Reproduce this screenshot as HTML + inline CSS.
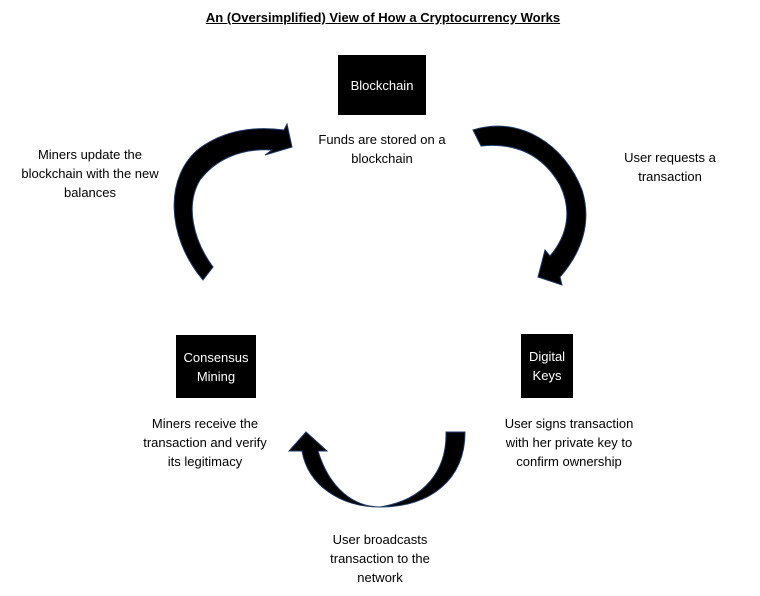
<!DOCTYPE html>
<html><head><style>
body{margin:0;width:760px;height:596px;background:#fff;position:relative;font-family:"Liberation Sans",sans-serif;overflow:hidden}
.t{position:absolute;font-size:13px;line-height:19px;text-align:center;color:#000}
.b{position:absolute;background:#000;color:#fff;font-size:13px;line-height:19px;display:flex;align-items:center;justify-content:center;text-align:center}
</style></head><body>
<div class="t" style="left:0;width:766px;top:8px;font-weight:bold;text-decoration:underline">An (Oversimplified) View of How a Cryptocurrency Works</div>
<div class="b" style="left:338px;top:55px;width:88px;height:60px">Blockchain</div>
<div class="b" style="left:176px;top:335px;width:80px;height:63px">Consensus<br>Mining</div>
<div class="b" style="left:521px;top:334px;width:52px;height:64px">Digital<br>Keys</div>
<div class="t" style="left:302px;width:160px;top:130px">Funds are stored on a<br>blockchain</div>
<div class="t" style="left:600px;width:140px;top:148px">User requests a<br>transaction</div>
<div class="t" style="left:0;width:180px;top:145px">Miners update the<br>blockchain with the new<br>balances</div>
<div class="t" style="left:120px;width:170px;top:414px">Miners receive the<br>transaction and verify<br>its legitimacy</div>
<div class="t" style="left:484px;width:170px;top:414px">User signs transaction<br>with her private key to<br>confirm ownership</div>
<div class="t" style="left:300px;width:160px;top:530px">User broadcasts<br>transaction to the<br>network</div>
<svg width="760" height="596" style="position:absolute;left:0;top:0">
<g fill="#000" stroke="#1f3864" stroke-width="1">
<path d="M203,280 C165,235 165,175 200,148 C225,130 255,126 284,130 L287,124 L292,147 L265,155 L272,150 C240,148 215,160 200,180 C185,205 193,240 213,267 Z"/>
<path d="M473,130 C520,115 565,145 582,190 C592,222 582,252 560,277 L562,285 L538,277 L545,250 L550,256 C568,235 572,210 560,185 C540,150 510,143 481,146 Z"/>
<path d="M465,432 C465,480 430,507 380,507 C340,507 308,485 302,451 L289,451 L306,432 L327,451 L318,451 C330,490 355,507 380,507 C425,500 447,470 446,432 Z"/>
</g>
</svg>
</body></html>
